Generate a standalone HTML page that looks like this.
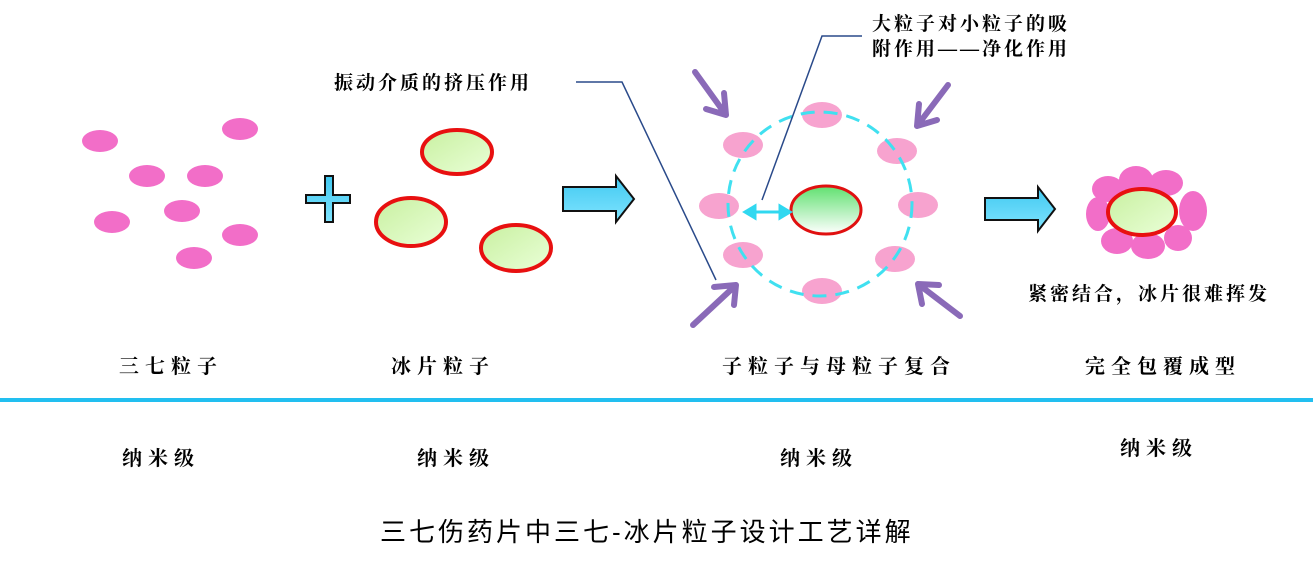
<!DOCTYPE html>
<html><head><meta charset="utf-8"><style>
body{margin:0;background:#fff;width:1313px;height:557px;overflow:hidden}
svg text{font-family:"Liberation Serif","Noto Serif CJK SC",serif;font-weight:bold;fill:#000}
</style></head><body>
<svg width="1313" height="557" viewBox="0 0 1313 557" xmlns="http://www.w3.org/2000/svg">
<defs>
<linearGradient id="g1" x1="0" y1="0" x2="1" y2="1"><stop offset="0" stop-color="#c8f0a0"/><stop offset="1" stop-color="#eaffd8"/></linearGradient>
<linearGradient id="g2" x1="0" y1="0" x2="0" y2="1"><stop offset="0" stop-color="#60e070"/><stop offset="1" stop-color="#ffffff"/></linearGradient>
<linearGradient id="gb" x1="0" y1="0" x2="0" y2="1"><stop offset="0" stop-color="#40c8f0"/><stop offset="1" stop-color="#80e4ff"/></linearGradient>
</defs>
<g fill="#f26ec8">
<ellipse cx="100" cy="141" rx="18" ry="11"/><ellipse cx="240" cy="129" rx="18" ry="11"/>
<ellipse cx="147" cy="176" rx="18" ry="11"/><ellipse cx="205" cy="176" rx="18" ry="11"/>
<ellipse cx="182" cy="211" rx="18" ry="11"/><ellipse cx="112" cy="222" rx="18" ry="11"/>
<ellipse cx="240" cy="235" rx="18" ry="11"/><ellipse cx="194" cy="258" rx="18" ry="11"/>
</g>
<path d="M325 176h8v19h17v8h-17v19h-8v-19h-19v-8h19z" fill="url(#gb)" stroke="#111" stroke-width="2"/>
<g fill="url(#g1)" stroke="#e81010" stroke-width="4">
<ellipse cx="457" cy="152" rx="35" ry="22"/><ellipse cx="411" cy="222" rx="35" ry="24"/><ellipse cx="516" cy="248" rx="35" ry="23"/>
</g>
<path d="M563 187h53v-11l18 23-18 23v-11h-53z" fill="url(#gb)" stroke="#111" stroke-width="2"/>
<path d="M985 198h53v-11l17 22-17 22v-11h-53z" fill="url(#gb)" stroke="#111" stroke-width="2"/>
<g fill="#f7a3cf">
<ellipse cx="822" cy="115" rx="20" ry="13"/><ellipse cx="743" cy="145" rx="20" ry="13"/><ellipse cx="897" cy="151" rx="20" ry="13"/>
<ellipse cx="719" cy="206" rx="20" ry="13"/><ellipse cx="918" cy="205" rx="20" ry="13"/><ellipse cx="743" cy="255" rx="20" ry="13"/>
<ellipse cx="895" cy="259" rx="20" ry="13"/><ellipse cx="822" cy="291" rx="20" ry="13"/>
</g>
<circle cx="820" cy="204" r="92" fill="none" stroke="#40e0f0" stroke-width="3" stroke-dasharray="14 9"/>
<ellipse cx="826" cy="210" rx="35" ry="24" fill="url(#g2)" stroke="#e01010" stroke-width="3"/>
<g stroke="#30d8f0" stroke-width="3" fill="#30d8f0">
<line x1="752" y1="212" x2="780" y2="212"/>
<path d="M745 212l10-6v12z"/><path d="M790 212l-10-6v12z"/>
</g>
<g stroke="#8a6ab8" stroke-width="6" fill="none" stroke-linecap="round">
<path d="M695 72L726 115M726 115l-2-22M726 115l-20-6"/>
<path d="M948 85L917 126M917 126l2-22M917 126l20-6"/>
<path d="M693 325L736 285M736 285l-22 2M736 285l-2 20"/>
<path d="M960 316L918 284M918 284l21 1M918 284l4 20"/>
</g>
<g stroke="#2a4a8a" stroke-width="1.5" fill="none">
<path d="M576 82H622L716 280"/><path d="M862 36H822L762 200"/>
</g>
<g fill="#f26ec8">
<ellipse cx="1108" cy="189" rx="16" ry="13"/><ellipse cx="1136" cy="180" rx="17" ry="14"/><ellipse cx="1166" cy="183" rx="17" ry="13"/>
<ellipse cx="1193" cy="211" rx="14" ry="20"/><ellipse cx="1098" cy="214" rx="12" ry="17"/>
<ellipse cx="1117" cy="241" rx="16" ry="13"/><ellipse cx="1148" cy="246" rx="17" ry="13"/><ellipse cx="1178" cy="238" rx="14" ry="13"/>
</g>
<ellipse cx="1142" cy="212" rx="34" ry="23" fill="url(#g1)" stroke="#e81010" stroke-width="4"/>
<g font-size="19" letter-spacing="3">
<text x="334" y="89">振动介质的挤压作用</text>
<text x="872" y="30">大粒子对小粒子的吸</text>
<text x="872" y="55">附作用——净化作用</text>
<text x="1028" y="300">紧密结合，冰片很难挥发</text>
</g>
<g font-size="20" letter-spacing="6">
<text x="119" y="373">三七粒子</text>
<text x="391" y="373">冰片粒子</text>
<text x="722" y="373">子粒子与母粒子复合</text>
<text x="1085" y="373">完全包覆成型</text>
<text x="122" y="465">纳米级</text>
<text x="417" y="465">纳米级</text>
<text x="780" y="465">纳米级</text>
<text x="1120" y="455">纳米级</text>
</g>
<rect x="0" y="398" width="1313" height="4" fill="#22bff0"/>
<text x="380" y="541" font-size="26" letter-spacing="3" style="font-weight:normal;font-family:'Liberation Sans','Noto Sans CJK SC',sans-serif">三七伤药片中三七-冰片粒子设计工艺详解</text>
</svg>
</body></html>
